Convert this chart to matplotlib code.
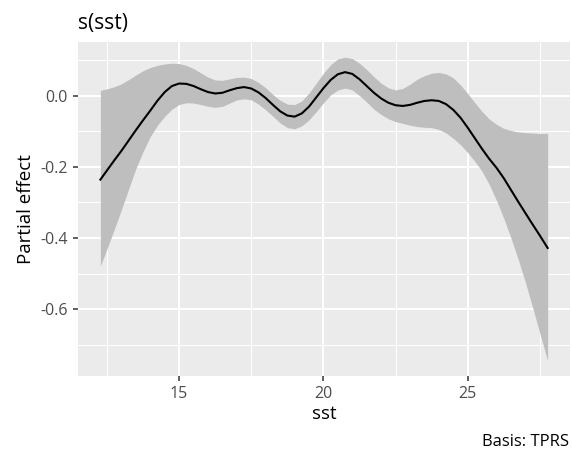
import numpy as np
import matplotlib
matplotlib.use("Agg")
import matplotlib.pyplot as plt

plt.rcParams["font.family"] = ["Open Sans", "DejaVu Sans"]

# smooth estimate of s(sst) with its confidence band
sst = [12.27, 12.5, 12.75, 13.0, 13.25, 13.5, 13.75, 14.0, 14.25, 14.5, 14.75,
       15.0, 15.25, 15.5, 15.75, 16.0, 16.25, 16.5, 16.75, 17.0, 17.25, 17.5,
       17.75, 18.0, 18.25, 18.5, 18.75, 19.0, 19.25, 19.5, 19.75, 20.0, 20.25,
       20.5, 20.75, 21.0, 21.25, 21.5, 21.75, 22.0, 22.25, 22.5, 22.75, 23.0,
       23.25, 23.5, 23.75, 24.0, 24.25, 24.5, 24.75, 25.0, 25.25, 25.5, 25.75,
       26.0, 26.25, 26.5, 26.75, 27.0, 27.25, 27.5, 27.77]
estimate = [-0.236, -0.210, -0.182, -0.155, -0.126, -0.097, -0.069, -0.042,
            -0.014, 0.010, 0.027, 0.034, 0.033, 0.027, 0.018, 0.010, 0.006,
            0.008, 0.015, 0.021, 0.024, 0.020, 0.009, -0.007, -0.026, -0.044,
            -0.056, -0.059, -0.050, -0.031, -0.005, 0.021, 0.044, 0.060, 0.066,
            0.061, 0.046, 0.027, 0.008, -0.008, -0.020, -0.027, -0.029, -0.026,
            -0.020, -0.015, -0.013, -0.015, -0.024, -0.040, -0.062, -0.090,
            -0.120, -0.150, -0.178, -0.203, -0.232, -0.265, -0.298, -0.330,
            -0.362, -0.393, -0.428]
upper = [0.015, 0.019, 0.025, 0.033, 0.045, 0.058, 0.070, 0.079, 0.085, 0.089,
         0.091, 0.090, 0.085, 0.076, 0.064, 0.052, 0.044, 0.043, 0.047, 0.051,
         0.052, 0.048, 0.037, 0.022, 0.003, -0.013, -0.024, -0.025, -0.015,
         0.007, 0.035, 0.063, 0.087, 0.103, 0.108, 0.104, 0.091, 0.073, 0.053,
         0.035, 0.022, 0.016, 0.020, 0.032, 0.046, 0.056, 0.063, 0.065, 0.061,
         0.050, 0.030, 0.006, -0.020, -0.045, -0.066, -0.081, -0.092, -0.098,
         -0.102, -0.104, -0.105, -0.106, -0.106]
lower = [-0.479, -0.430, -0.376, -0.320, -0.262, -0.205, -0.157, -0.115,
         -0.083, -0.058, -0.038, -0.025, -0.020, -0.021, -0.025, -0.030,
         -0.033, -0.030, -0.021, -0.012, -0.009, -0.012, -0.024, -0.040,
         -0.058, -0.077, -0.090, -0.093, -0.085, -0.068, -0.045, -0.020, 0.002,
         0.016, 0.021, 0.016, 0.000, -0.018, -0.038, -0.053, -0.065, -0.073,
         -0.078, -0.083, -0.087, -0.089, -0.090, -0.095, -0.105, -0.120,
         -0.138, -0.160, -0.185, -0.213, -0.250, -0.295, -0.345, -0.400,
         -0.460, -0.525, -0.595, -0.668, -0.745]

x_ticks = [15, 20, 25]
y_ticks = [-0.6, -0.4, -0.2, 0.0]

fig = plt.figure(figsize=(5.72, 4.54), dpi=100)
ax = fig.add_axes([0.1364, 0.1718, 0.8601, 0.7357])
ax.set_facecolor("#EBEBEB")
for s in ax.spines.values():
    s.set_visible(False)

# ggplot-style grid
x_min, x_max = min(sst), max(sst)
y_min, y_max = min(lower), max(upper)
dx, dy = 0.05 * (x_max - x_min), 0.05 * (y_max - y_min)
ax.set_xlim(x_min - dx, x_max + dx)
ax.set_ylim(y_min - dy, y_max + dy)
ax.set_xticks(x_ticks)
ax.set_yticks(y_ticks)
ax.set_yticklabels([f"{v:.1f}" for v in y_ticks])
ax.set_xticks([12.5, 17.5, 22.5, 27.5], minor=True)
ax.set_yticks([-0.7, -0.5, -0.3, -0.1, 0.1], minor=True)
ax.grid(which="major", color="white", linewidth=1.5)
ax.grid(which="minor", color="white", linewidth=0.75)
ax.set_axisbelow(True)
ax.tick_params(which="major", length=3.5, width=1.1, color="#333333",
               labelcolor="#4D4D4D", labelsize=11.5, pad=4)
ax.tick_params(which="minor", length=0)

ax.fill_between(sst, lower, upper, color="#BEBEBE", linewidth=0)
ax.plot(sst, estimate, color="black", linewidth=1.5)

ax.set_xlabel("sst", fontsize=13.5, labelpad=1.5)
ax.set_ylabel("Partial effect", fontsize=13.5, labelpad=4)
ax.set_title("s(sst)", loc="left", fontsize=15, pad=9)
fig.text(0.995, 0.027, "Basis: TPRS", ha="right", va="center", fontsize=12)

fig.savefig("out.png", dpi=100)
